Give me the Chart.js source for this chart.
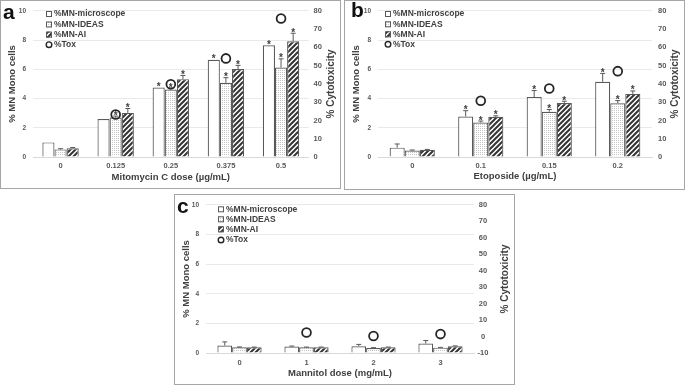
<!DOCTYPE html>
<html lang="en">
<head>
  <meta charset="UTF-8">
  <title>% MN Mono cells</title>
  <script src="https://cdn.jsdelivr.net/npm/chart.js"></script>
  <style>
    body { margin: 0; width: 685px; height: 385px; background: #fff; position: relative; overflow: hidden; }
    canvas { position: absolute; }
    .frame { position: absolute; border: 1px solid #a6a6a6; box-sizing: border-box; pointer-events: none; }
  </style>
</head>
<body>
  <canvas id="chartA" width="341" height="189" style="left:0;top:0"></canvas>
  <canvas id="chartB" width="341" height="190" style="left:344px;top:0"></canvas>
  <canvas id="chartC" width="341" height="191" style="left:174px;top:194px"></canvas>
  <div class="frame" style="left:0;top:0;width:341px;height:189px"></div>
  <div class="frame" style="left:344px;top:0;width:341px;height:190px"></div>
  <div class="frame" style="left:174px;top:194px;width:341px;height:191px"></div>

  <script>
    // series names
    const seriesNames = ['%MN-microscope', '%MN-IDEAS', '%MN-AI', '%Tox'];

    // panel a : mitomycin C
    const doseA = ['0', '0.125', '0.25', '0.375', '0.5'];
    const microA = [1.0, 2.6, 4.75, 6.65, 7.65];
    const microErrA = [0, 0, 0, 0, 0];
    const ideasA = [0.52, 2.7, 4.62, 5.08, 6.12];
    const ideasErrA = [0.05, 0.1, 0.1, 0.35, 0.6];
    const aiA = [0.6, 3.02, 5.33, 6.02, 7.92];
    const aiErrA = [0.05, 0.3, 0.25, 0.25, 0.55];
    const microSigA = [0, 0, 1, 1, 1];
    const ideasSigA = [0, 1, 1, 1, 1];
    const aiSigA = [0, 1, 1, 1, 1];
    const toxA = [null, 23.3, 39.8, 54, 75.8];

    // panel b : etoposide
    const doseB = ['0', '0.1', '0.15', '0.2'];
    const microB = [0.64, 2.77, 4.1, 5.15];
    const microErrB = [0.25, 0.4, 0.45, 0.57];
    const ideasB = [0.45, 2.36, 3.1, 3.68];
    const ideasErrB = [0.03, 0.1, 0.15, 0.18];
    const aiB = [0.5, 2.75, 3.7, 4.32];
    const aiErrB = [0.02, 0.07, 0.12, 0.2];
    const microSigB = [0, 1, 1, 1];
    const ideasSigB = [0, 1, 1, 1];
    const aiSigB = [0, 1, 1, 1];
    const toxB = [null, 30.8, 37.5, 47];

    // panel c : mannitol
    const doseC = ['0', '1', '2', '3'];
    const microC = [0.5, 0.44, 0.46, 0.64];
    const microErrC = [0.25, 0.03, 0.12, 0.2];
    const ideasC = [0.38, 0.38, 0.34, 0.36];
    const ideasErrC = [0.03, 0.02, 0.02, 0.02];
    const aiC = [0.38, 0.38, 0.38, 0.46];
    const aiErrC = [0.02, 0.02, 0.02, 0.02];
    const noSig = [0, 0, 0, 0];
    const toxC = [null, 2.5, 0.3, 1.5];

    const FONT = '"Liberation Sans", Arial, sans-serif';
    Chart.defaults.font.family = FONT;
    Chart.defaults.animation = false;

    function dots(ctx) {
      const c = document.createElement('canvas');
      c.width = 2; c.height = 2;
      const g = c.getContext('2d');
      g.fillStyle = '#fff'; g.fillRect(0, 0, 2, 2);
      g.fillStyle = '#c4c4c4'; g.fillRect(0, 0, 1, 1);
      return ctx.createPattern(c, 'repeat');
    }

    function hatch(ctx) {
      const s = 5;
      const c = document.createElement('canvas');
      c.width = s; c.height = s;
      const g = c.getContext('2d');
      g.fillStyle = '#fff'; g.fillRect(0, 0, s, s);
      g.strokeStyle = '#333'; g.lineWidth = 2;
      g.beginPath();
      g.moveTo(0, s); g.lineTo(s, 0);
      g.moveTo(-1, 1); g.lineTo(1, -1);
      g.moveTo(s - 1, s + 1); g.lineTo(s + 1, s - 1);
      g.stroke();
      return ctx.createPattern(c, 'repeat');
    }

    // error bars, asterisks, legend, right title, panel letter
    const extras = {
      id: 'extras',
      afterDatasetDraw(chart, args) {
        const ds = chart.data.datasets[args.index];
        if (!ds.err) return;
        const ctx = chart.ctx, yS = chart.scales.y;
        ctx.save();
        ctx.strokeStyle = '#595959';
        ctx.lineWidth = 1;
        ctx.fillStyle = '#404040';
        ctx.font = 'bold 10px ' + FONT;
        ctx.textAlign = 'center';
        ctx.textBaseline = 'alphabetic';
        args.meta.data.forEach((bar, i) => {
          const v = ds.data[i], e = ds.err[i] || 0;
          let top = bar.y;
          if (e > 0) {
            const ye = yS.getPixelForValue(v + e);
            ctx.beginPath();
            ctx.moveTo(bar.x, bar.y); ctx.lineTo(bar.x, ye);
            ctx.moveTo(bar.x - 2.5, ye); ctx.lineTo(bar.x + 2.5, ye);
            ctx.stroke();
            top = ye;
          }
          if (ds.sig && ds.sig[i]) ctx.fillText('*', bar.x, top + 2.5);
        });
        ctx.restore();
      },
      afterDraw(chart) {
        const o = chart.options.plugins.extras;
        const ctx = chart.ctx, area = chart.chartArea;
        ctx.save();
        // legend
        ctx.font = 'bold 8.5px ' + FONT;
        ctx.textBaseline = 'middle';
        ctx.textAlign = 'left';
        chart.data.datasets.forEach((ds, k) => {
          const y = o.legY[k];
          const x = o.legX;
          if (ds.type === 'line') {
            ctx.beginPath();
            ctx.arc(x + 3, y, 2.8, 0, Math.PI * 2);
            ctx.strokeStyle = '#262626'; ctx.lineWidth = 1.4;
            ctx.stroke();
          } else {
            ctx.fillStyle = ds.backgroundColor;
            ctx.fillRect(x, y - 3, 6, 6);
            ctx.strokeStyle = '#595959'; ctx.lineWidth = 1;
            ctx.strokeRect(x + 0.5, y - 2.5, 5, 5);
          }
          ctx.fillStyle = '#404040';
          ctx.fillText(ds.label, x + 8, y);
        });
        // right axis title
        ctx.save();
        ctx.translate(o.rtX, (area.top + area.bottom) / 2);
        ctx.rotate(-Math.PI / 2);
        ctx.textAlign = 'center';
        ctx.font = 'bold 10px ' + FONT;
        ctx.fillStyle = '#404040';
        ctx.fillText('% Cytotoxicity', 0, 0);
        ctx.restore();
        // panel letter
        ctx.font = 'bold 21px ' + FONT;
        ctx.fillStyle = '#111';
        ctx.textBaseline = 'alphabetic';
        ctx.fillText(o.letter, o.letterX, o.letterY);
        ctx.restore();
      }
    };

    function makePanel(id, p) {
      const canvas = document.getElementById(id);
      const ctx = canvas.getContext('2d');
      const W = canvas.width, H = canvas.height;
      const tickFont = { size: 7.5, weight: 'bold' };
      return new Chart(ctx, {
        type: 'bar',
        data: {
          labels: p.labels,
          datasets: [
            { label: seriesNames[0], data: p.micro, err: p.microErr, sig: p.microSig, backgroundColor: '#fff',
              borderColor: '#595959', borderWidth: 1.2, yAxisID: 'y', order: 1 },
            { label: seriesNames[1], data: p.ideas, err: p.ideasErr, sig: p.ideasSig, backgroundColor: dots(ctx),
              borderColor: '#595959', borderWidth: 1.2, yAxisID: 'y', order: 1 },
            { label: seriesNames[2], data: p.ai, err: p.aiErr, sig: p.aiSig, backgroundColor: hatch(ctx),
              borderColor: '#595959', borderWidth: 1.2, yAxisID: 'y', order: 1 },
            { type: 'line', label: seriesNames[3], data: p.tox, yAxisID: 'y1', showLine: false, order: 0,
              pointStyle: 'circle', pointRadius: 4.4, pointBorderWidth: 1.8,
              pointBorderColor: '#262626', pointBackgroundColor: 'rgba(0,0,0,0)' }
          ]
        },
        options: {
          responsive: false,
          events: [],
          barPercentage: 1,
          categoryPercentage: 0.66,
          layout: { padding: { top: p.top, left: 0, right: 0, bottom: 0 } },
          plugins: {
            legend: { display: false },
            tooltip: { enabled: false },
            extras: p.extras
          },
          scales: {
            x: {
              grid: { display: false, drawTicks: false },
              border: { display: true, color: '#d9d9d9' },
              ticks: { font: tickFont, color: '#595959', padding: p.xPad },
              title: { display: true, text: p.xTitle, color: '#404040',
                       font: { size: 9.5, weight: 'bold' }, padding: { top: 0, bottom: p.xTitlePad } },
              afterFit: s => { s.height = H - p.bottom; }
            },
            y: {
              position: 'left', min: 0, max: 10,
              grid: { color: '#e3e3e3', drawTicks: false, lineWidth: 0.8 },
              border: { display: false },
              ticks: { stepSize: 2, font: { size: 6.5, weight: 'bold' }, color: '#595959', padding: 7 },
              title: { display: true, text: '% MN Mono cells', color: '#404040',
                       font: { size: 9.5, weight: 'bold' }, padding: { top: 6.5, bottom: 0 } },
              afterFit: s => { s.width = p.left; }
            },
            y1: {
              position: 'right', min: p.rMin, max: 80,
              grid: { display: false, drawTicks: false },
              border: { display: false },
              ticks: { stepSize: 10, font: tickFont, color: '#595959', padding: p.rPad, crossAlign: p.rAlign },
              afterFit: s => { s.width = W - p.right; }
            }
          }
        },
        plugins: [extras]
      });
    }

    makePanel('chartA', {
      labels: doseA, micro: microA, microErr: microErrA, microSig: microSigA,
      ideas: ideasA, ideasErr: ideasErrA, ideasSig: ideasSigA,
      ai: aiA, aiErr: aiErrA, aiSig: aiSigA, tox: toxA,
      xTitle: 'Mitomycin C dose (µg/mL)',
      top: 7, bottom: 157, left: 33, right: 308.6, rMin: 0,
      xPad: 4.5, xTitlePad: 6.3, rPad: 5, rAlign: 'near',
      extras: { legX: 46, legY: [14, 24.5, 34.6, 44.7], rtX: 331, letter: 'a', letterX: 3, letterY: 18.5 }
    });

    makePanel('chartB', {
      labels: doseB, micro: microB, microErr: microErrB, microSig: microSigB,
      ideas: ideasB, ideasErr: ideasErrB, ideasSig: ideasSigB,
      ai: aiB, aiErr: aiErrB, aiSig: aiSigB, tox: toxB,
      xTitle: 'Etoposide (µg/mL)',
      top: 7, bottom: 157, left: 34, right: 308, rMin: 0,
      xPad: 4, xTitlePad: 7.6, rPad: 6, rAlign: 'near',
      extras: { legX: 41, legY: [14, 24.3, 34.3, 44.3], rtX: 331, letter: 'b', letterX: 7, letterY: 17 }
    });

    makePanel('chartC', {
      labels: doseC, micro: microC, microErr: microErrC, microSig: noSig,
      ideas: ideasC, ideasErr: ideasErrC, ideasSig: noSig,
      ai: aiC, aiErr: aiErrC, aiSig: noSig, tox: toxC,
      xTitle: 'Mannitol dose (mg/mL)',
      top: 8, bottom: 159, left: 32, right: 300, rMin: -10,
      xPad: 5.5, xTitlePad: 6, rPad: 3.6, rAlign: 'center',
      extras: { legX: 44, legY: [15.3, 25.3, 35.3, 46], rtX: 331, letter: 'c', letterX: 3, letterY: 19 }
    });
  </script>
</body>
</html>
